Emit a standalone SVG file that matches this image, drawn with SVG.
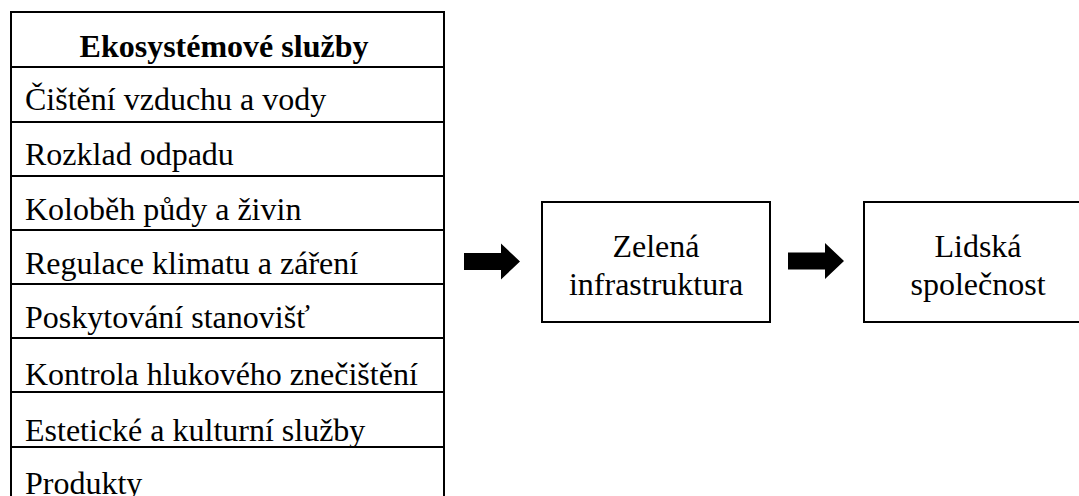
<svg xmlns="http://www.w3.org/2000/svg" width="1079" height="496" viewBox="0 0 1079 496">
<defs>
<polygon id="arrow" points="0,-8.5 37,-8.5 37,-18 56,0 37,18 37,8.5 0,8.5" fill="#000"/>
</defs>
<rect width="1079" height="496" fill="#fff"/>
<g id="table" font-family="Liberation Serif" font-size="32" fill="#000">
<g stroke="#000" stroke-width="2" fill="none">
<rect x="11" y="12" width="433" height="500"/>
<line x1="11" y1="67" x2="444" y2="67"/>
<line x1="11" y1="122" x2="444" y2="122"/>
<line x1="11" y1="176" x2="444" y2="176"/>
<line x1="11" y1="230" x2="444" y2="230"/>
<line x1="11" y1="284" x2="444" y2="284"/>
<line x1="11" y1="338" x2="444" y2="338"/>
<line x1="11" y1="392" x2="444" y2="392"/>
<line x1="11" y1="447" x2="444" y2="447"/>
</g>
<text font-weight="bold" text-anchor="middle" x="224" y="57">Ekosystémové služby</text>
<text x="25" y="110">Čištění vzduchu a vody</text>
<text x="25" y="165">Rozklad odpadu</text>
<text x="25" y="220">Koloběh půdy a živin</text>
<text x="25" y="274">Regulace klimatu a záření</text>
<text x="25" y="328">Poskytování stanovišť</text>
<text x="25" y="385">Kontrola hlukového znečištění</text>
<text x="25" y="441">Estetické a kulturní služby</text>
<text x="25" y="494">Produkty</text>
</g>
<g id="zelena" font-family="Liberation Serif" font-size="32" text-anchor="middle">
<rect x="542" y="202" width="228" height="120" fill="#fff" stroke="#000" stroke-width="2"/>
<text x="656" y="257">Zelená</text>
<text x="656" y="295">infrastruktura</text>
</g>
<g id="lidska" font-family="Liberation Serif" font-size="32" text-anchor="middle">
<rect x="864" y="202" width="228" height="120" fill="#fff" stroke="#000" stroke-width="2"/>
<text x="978" y="257">Lidská</text>
<text x="978" y="295">společnost</text>
</g>
<g id="connectors">
<use href="#arrow" x="464" y="261.5"/>
<use href="#arrow" x="788" y="261"/>
</g>
</svg>
